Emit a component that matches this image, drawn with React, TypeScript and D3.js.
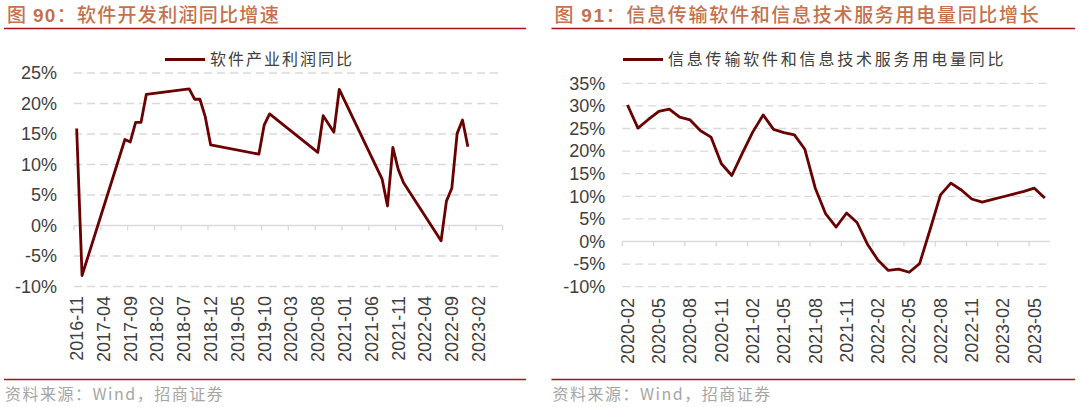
import React, { useRef, useEffect } from "react";
import * as d3 from "d3";

// 图90 软件开发利润同比 (%), months without data are skipped and joined by straight segments
const profitDates = [
  "2016-11", "2016-12", "2017-08", "2017-09", "2017-10", "2017-11", "2017-12",
  "2018-08", "2018-09", "2018-10", "2018-11", "2018-12", "2019-09", "2019-10",
  "2019-11", "2020-08", "2020-09", "2020-11", "2020-12", "2021-08", "2021-09",
  "2021-10", "2021-11", "2021-12", "2022-07", "2022-08", "2022-09", "2022-10",
  "2022-11", "2022-12",
];
const profitValues = [
  15.9, -8.2, 14.1, 13.7, 16.9, 16.9, 21.5,
  22.4, 20.7, 20.7, 17.8, 13.2, 11.7, 16.5,
  18.3, 12.0, 18.0, 15.3, 22.3, 7.6, 3.2,
  12.8, 9.2, 7.0, -2.5, 4.0, 6.1, 15.1,
  17.3, 12.9,
];
const profitTicks = [
  "2016-11", "2017-04", "2017-09", "2018-02", "2018-07", "2018-12", "2019-05", "2019-10",
  "2020-03", "2020-08", "2021-01", "2021-06", "2021-11", "2022-04", "2022-09", "2023-02",
];

// 图91 信息传输软件和信息技术服务用电量同比 (%), monthly from 2020-02
const powerValues = [
  30.2, 25.1, 27.0, 28.8, 29.3, 27.5, 26.9, 24.5, 23.1, 17.2, 14.6,
  19.5, 24.2, 28.0, 24.8, 24.1, 23.6, 20.4, 11.8, 6.1, 3.2, 6.3, 4.2,
  -0.6, -4.1, -6.4, -6.1, -6.8, -4.9, 2.6, 10.3, 12.9, 11.4, 9.4, 8.7,
  9.3, 9.9, 10.5, 11.1, 11.8, 9.6,
];
const powerTicks = [
  "2020-02", "2020-05", "2020-08", "2020-11", "2021-02", "2021-05", "2021-08",
  "2021-11", "2022-02", "2022-05", "2022-08", "2022-11", "2023-02", "2023-05",
];

const fmt = d3.timeFormat("%Y-%m");
const parse = d3.timeParse("%Y-%m");

const monthRange = (start, count) =>
  d3.range(count).map(i => fmt(d3.timeMonth.offset(parse(start), i)));

const TITLE_COLOR = "#c5714d";
const RULE_COLOR = "#a3141c";
const LINE_COLOR = "#6b0000";
const GRID_COLOR = "#d9d9d9";
const TEXT_COLOR = "#404040";
const CJK = "'Noto Sans CJK SC', 'Noto Sans', sans-serif";
const LATIN = "'Liberation Sans', Arial, sans-serif";

function drawPanel(svg, p) {
  const g = svg.append("g");

  // title
  const title = g.append("text")
    .attr("x", p.left + 3)
    .attr("y", 22)
    .style("font-family", CJK)
    .style("font-size", "19px")
    .style("font-weight", 500)
    .style("letter-spacing", p.titleSpacing + "px")
    .attr("fill", TITLE_COLOR);
  title.append("tspan").text("图 ");
  title.append("tspan").style("font-weight", "bold").style("font-family", LATIN).text(p.num);
  title.append("tspan").text("：" + p.title);

  g.append("line")
    .attr("x1", p.left).attr("x2", p.right)
    .attr("y1", 28.5).attr("y2", 28.5)
    .attr("stroke", RULE_COLOR).attr("stroke-width", 1.6);
  g.append("line")
    .attr("x1", p.left).attr("x2", p.right)
    .attr("y1", 379.5).attr("y2", 379.5)
    .attr("stroke", RULE_COLOR).attr("stroke-width", 1.6);

  g.append("text")
    .attr("x", p.left + 1)
    .attr("y", 400)
    .style("font-family", CJK)
    .style("font-size", "16px")
    .style("letter-spacing", "1.5px")
    .attr("fill", "#a6a6a6")
    .text("资料来源：Wind，招商证券");

  // scales
  const x = d3.scaleBand().domain(p.months).range([p.x0, p.x1]).padding(0);
  const bw = x.bandwidth();
  const y = d3.scaleLinear().domain([p.yMin, p.yMax]).range([p.yBottom, p.yTop]);
  const yTicks = d3.range(p.yMin, p.yMax + 0.1, 5);

  g.append("g")
    .selectAll("line")
    .data(yTicks.filter(v => v !== 0))
    .join("line")
    .attr("x1", p.x0).attr("x2", p.x1 - 2)
    .attr("y1", d => y(d)).attr("y2", d => y(d))
    .attr("stroke", GRID_COLOR)
    .attr("stroke-width", 1.3)
    .attr("stroke-dasharray", "8,5");

  g.append("g")
    .selectAll("text")
    .data(yTicks)
    .join("text")
    .attr("x", p.x0 - 17)
    .attr("y", d => y(d))
    .attr("dy", "0.35em")
    .attr("text-anchor", "end")
    .style("font-family", LATIN)
    .style("font-size", "18px")
    .attr("fill", TEXT_COLOR)
    .text(d => d + "%");

  // zero axis with tick marks
  g.append("line")
    .attr("x1", p.x0).attr("x2", p.x1)
    .attr("y1", y(0)).attr("y2", y(0))
    .attr("stroke", GRID_COLOR).attr("stroke-width", 1.3);
  const tickIdx = d3.range(0, p.months.length + 1, p.step);
  g.append("g")
    .selectAll("line")
    .data(tickIdx)
    .join("line")
    .attr("x1", i => p.x0 + i * bw).attr("x2", i => p.x0 + i * bw)
    .attr("y1", y(0)).attr("y2", y(0) + 5)
    .attr("stroke", GRID_COLOR).attr("stroke-width", 1.3);

  g.append("g")
    .selectAll("text")
    .data(p.ticks)
    .join("text")
    .attr("transform", d => `translate(${x(d) + bw / 2},${p.labelTop}) rotate(-90)`)
    .attr("text-anchor", "end")
    .attr("dy", "0.35em")
    .style("font-family", LATIN)
    .style("font-size", "18px")
    .attr("fill", TEXT_COLOR)
    .text(d => d);

  // series
  const line = d3.line()
    .x(d => x(d[0]) + bw / 2)
    .y(d => y(d[1]));
  g.append("path")
    .datum(p.points)
    .attr("d", line)
    .attr("fill", "none")
    .attr("stroke", LINE_COLOR)
    .attr("stroke-width", 2.8)
    .attr("stroke-linejoin", "round");

  // legend
  g.append("line")
    .attr("x1", p.legendX).attr("x2", p.legendX + 40)
    .attr("y1", 59.5).attr("y2", 59.5)
    .attr("stroke", LINE_COLOR).attr("stroke-width", 3);
  g.append("text")
    .attr("x", p.legendX + 45)
    .attr("y", 59.5)
    .attr("dy", "0.36em")
    .style("font-family", CJK)
    .style("font-size", "16px")
    .style("letter-spacing", p.legendSpacing + "px")
    .attr("fill", TEXT_COLOR)
    .text(p.legend);
}

const App = () => {
  const ref = useRef(null);

  useEffect(() => {
    const svg = d3.select(ref.current);
    svg.selectAll("*").remove();

    drawPanel(svg, {
      num: "90",
      title: "软件开发利润同比增速",
      titleSpacing: 1.3,
      legend: "软件产业利润同比",
      legendSpacing: 2,
      left: 4, right: 526,
      x0: 74, x1: 502.7,
      months: monthRange("2016-11", 80),
      step: 5,
      ticks: profitTicks,
      yMin: -10, yMax: 25, yBottom: 286.5, yTop: 73,
      labelTop: 296,
      legendX: 165,
      points: profitDates.map((d, i) => [d, profitValues[i]]),
    });

    const powerMonths = monthRange("2020-02", powerValues.length);
    drawPanel(svg, {
      num: "91",
      title: "信息传输软件和信息技术服务用电量同比增长",
      titleSpacing: 1.7,
      legend: "信息传输软件和信息技术服务用电量同比",
      legendSpacing: 2.8,
      left: 551.5, right: 1075,
      x0: 622.3, x1: 1050,
      months: powerMonths,
      step: 3,
      ticks: powerTicks,
      yMin: -10, yMax: 35, yBottom: 286.7, yTop: 83.3,
      labelTop: 298,
      legendX: 623,
      points: powerMonths.map((d, i) => [d, powerValues[i]]),
    });
  }, []);

  return (
    <svg
      ref={ref}
      width={1080}
      height={407}
      style={{ position: "absolute", left: 0, top: 0, background: "#fff" }}
    />
  );
};

export default App;
